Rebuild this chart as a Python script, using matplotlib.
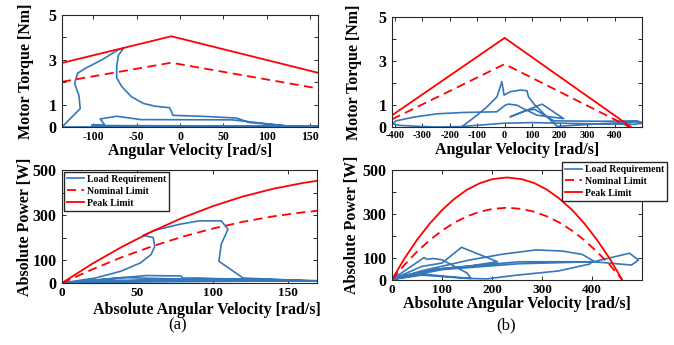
import numpy as np
import matplotlib
matplotlib.use("Agg")
import matplotlib.pyplot as plt

plt.rcParams['font.family'] = ['Liberation Serif', 'DejaVu Serif']
plt.rcParams['font.weight'] = 'bold'
plt.rcParams['axes.labelweight'] = 'bold'
plt.rcParams['axes.unicode_minus'] = False

BLUE = '#3477bb'
RED = '#ff0000'

# ---- (a) torque vs angular velocity ----
peak_a_w = [-136, -10, 159]
peak_a_t = [2.86, 4.05, 2.42]
nom_a_w = [-136, -10, 159]
nom_a_t = [2.02, 2.87, 1.72]
load_a_w = [-136, -115, -116.5, -121.5, -118, -110, -90, -71, -65, -71, -73, -73, -67,
            -56, -42, -29, -12, -8, 30, 65, 80, 125, 60, -45, -73, -92, -87, -102,
            -60, 40, 159, 100, -20, -136]
load_a_t = [0.0, 0.82, 1.41, 1.94, 2.4, 2.6, 3.0, 3.45, 3.52, 3.2, 2.7, 2.2, 1.8,
            1.35, 1.05, 0.93, 0.86, 0.52, 0.47, 0.40, 0.2, 0.04, 0.32, 0.33, 0.48, 0.36, 0.1, 0.07,
            0.06, 0.05, 0.03, 0.02, 0.01, 0.0]

# ---- (b) torque vs angular velocity ----
peak_b_w = [-410, 0, 460]
peak_b_t = [0.53, 4.05, 0.0]
nom_b_w = [-410, 0, 455]
nom_b_t = [0.35, 2.86, 0.0]
load_b_w = [-157, -100, -64, -28, -10, -2, 20, 57, 81, 87, 105, 142, 191, 350, 482, 500,
            470, 300, 100, -5, -157, -250, -314, -390, -409, -395, -330, -246, -150, -29,
            2, 14, 45, 69, 117, 215, 136, 20, 80, 110, 179, 350, 482, 500]
load_b_t = [0.0, 0.54, 0.92, 1.37, 2.06, 1.45, 1.6, 1.68, 1.65, 1.37, 1.07, 0.61, 0.03, 0.15, 0.23, 0.17,
            0.12, 0.15, 0.2, 0.17, 0.02, 0.0, 0.03, 0.08, 0.15, 0.28, 0.45, 0.6, 0.66, 0.69,
            0.99, 1.04, 0.99, 0.83, 0.54, 0.38, 1.04, 0.46, 0.76, 0.8, 0.28, 0.26, 0.28, 0.2]

# ---- (a) power vs absolute angular velocity ----
pw_a_w = [0, 20, 40, 60, 80, 100, 120, 140, 160, 170]
peak_a_p = [0, 85, 161, 229, 289, 340, 383, 417, 443, 453]
nom_a_p = [0, 60, 115, 163, 205, 241, 271, 295, 313, 320]
load_pa_w = [0, 22, 39, 52, 59, 61.5, 60.4, 53.7, 61.5, 78, 91, 105.5, 110, 105.5, 104, 120,
             170, 100, 40, 0, 56, 79, 80, 140, 170, 60, 0, 90, 150, 30, 0]
load_pa_p = [0, 22, 52, 89, 126, 163, 201, 211, 233, 260, 275, 275, 238, 171, 96, 22,
             8, 14, 24, 0, 33, 31, 22, 15, 10, 5, 0, 20, 12, 12, 0]

# ---- (b) power vs absolute angular velocity ----
pw_b_w = [0, 25, 50, 75, 100, 125, 150, 175, 200, 230, 260, 285, 310, 335, 360, 385, 410, 435, 460]
peak_b_p = [0, 96, 181, 254, 317, 369, 410, 439, 458, 466, 458, 440, 410, 369, 318, 255, 181, 97, 0]
nom_b_p = [0, 67, 127, 179, 223, 260, 288, 309, 322, 328, 322, 309, 288, 260, 223, 179, 127, 68, 0]
load_pb_w = [0, 60, 100, 139, 211, 150, 80, 30, 0, 64, 70, 82, 100, 125, 150, 158, 120, 60, 0,
             60, 155, 222, 288, 340, 380, 403, 395, 386, 333, 250, 190, 150, 60, 0,
             100, 254, 403, 475, 493, 479, 403, 254, 100, 0]
load_pb_p = [0, 60, 75, 147, 81, 60, 45, 20, 0, 100, 92, 96, 90, 60, 30, 5, 12, 25, 0,
             40, 89, 116, 135, 130, 115, 85, 70, 66, 39, 20, 3, 5, 20, 0,
             50, 81, 81, 120, 89, 66, 81, 72, 45, 0]

W, H = 674, 345
fig = plt.figure(figsize=(W / 100, H / 100), dpi=100)


def box(l, r, t, b):
    return [l / W, 1 - b / H, (r - l) / W, (b - t) / H]


def style(ax, xsize, ylab_x, ylab_y):
    for s in ax.spines.values():
        s.set_linewidth(0.8)
        s.set_color('#262626')
    ax.tick_params(direction='in', top=True, right=True, length=3, width=0.7,
                   colors='#262626', labelcolor='black')
    ax.tick_params(axis='x', labelsize=xsize, pad=3)
    ax.tick_params(axis='y', labelsize=11.5, pad=4)
    for lab in ax.get_xticklabels() + ax.get_yticklabels():
        lab.set_fontweight('bold')
    ax.yaxis.set_label_coords(ylab_x, ylab_y)


lw_red = 1.3
lw_blue = 1.2
dash = (5, 3)
lab_fs = 11.5
leg_kw = dict(fontsize=7, frameon=True, fancybox=False, framealpha=1, edgecolor='#262626',
              handlelength=1.8, borderpad=0.3, labelspacing=0.3, handletextpad=0.25)

# (a) top
ax1 = fig.add_axes(box(62, 318, 15, 127))
ax1.plot(load_a_w, load_a_t, color=BLUE, lw=lw_blue)
ax1.plot(nom_a_w, nom_a_t, color=RED, lw=lw_red, dashes=dash)
ax1.plot(peak_a_w, peak_a_t, color=RED, lw=lw_red)
ax1.set_xlim(-136, 159)
ax1.set_ylim(0, 5)
ax1.set_xticks([-100, -50, 0, 50, 100, 150])
ax1.set_yticks([0, 1, 2, 3, 4, 5], ['0', '1', '', '3', '', '5'])
style(ax1, 8.5, -0.11, 0.42)
ax1.set_xlabel('Angular Velocity [rad/s]', fontsize=lab_fs, labelpad=0)
ax1.set_ylabel('Motor Torque [Nm]', fontsize=lab_fs)

# (b) top
ax2 = fig.add_axes(box(392, 642, 17, 127))
ax2.plot(load_b_w, load_b_t, color=BLUE, lw=lw_blue)
ax2.plot(nom_b_w, nom_b_t, color=RED, lw=lw_red, dashes=dash)
ax2.plot(peak_b_w, peak_b_t, color=RED, lw=lw_red)
ax2.set_xlim(-410, 500)
ax2.set_ylim(0, 5)
ax2.set_xticks([-400, -300, -200, -100, 0, 100, 200, 300, 400])
ax2.set_yticks([0, 1, 2, 3, 4, 5], ['0', '1', '', '3', '', '5'])
style(ax2, 7.5, -0.12, 0.45)
ax2.set_xlabel('Angular Velocity [rad/s]', fontsize=lab_fs, labelpad=1)
ax2.set_ylabel('Motor Torque [Nm]', fontsize=lab_fs)

# (a) bottom
ax3 = fig.add_axes(box(62, 317, 170, 283))
ax3.plot(load_pa_w, load_pa_p, color=BLUE, lw=lw_blue, label='Load Requirement')
ax3.plot(pw_a_w, nom_a_p, color=RED, lw=lw_red, dashes=dash, label='Nominal Limit')
ax3.plot(pw_a_w, peak_a_p, color=RED, lw=lw_red, label='Peak Limit')
ax3.set_xlim(0, 169)
ax3.set_ylim(0, 500)
ax3.set_xticks([0, 50, 100, 150])
ax3.set_yticks([0, 100, 200, 300, 400, 500], ['0', '100', '', '300', '', '500'])
style(ax3, 9.5, -0.115, 0.40)
ax3.set_xlabel('Absolute Angular Velocity [rad/s]', fontsize=lab_fs, labelpad=0)
ax3.xaxis.set_label_coords(0.57, -0.165)
ax3.xaxis.label.set_va('top')
ax3.set_ylabel('Absolute Power [W]', fontsize=lab_fs)
ax3.legend(loc='upper left', borderaxespad=0.2, **leg_kw)

# (b) bottom
ax4 = fig.add_axes(box(392, 642, 170, 279.5))
ax4.plot(load_pb_w, load_pb_p, color=BLUE, lw=lw_blue, label='Load Requirement')
ax4.plot(pw_b_w, nom_b_p, color=RED, lw=lw_red, dashes=dash, label='Nominal Limit')
ax4.plot(pw_b_w, peak_b_p, color=RED, lw=lw_red, label='Peak Limit')
ax4.set_xlim(0, 500)
ax4.set_ylim(0, 500)
ax4.set_xticks([0, 100, 200, 300, 400])
ax4.set_yticks([0, 100, 200, 300, 400, 500], ['0', '100', '', '300', '', '500'])
style(ax4, 9.5, -0.13, 0.44)
ax4.set_xlabel('Absolute Angular Velocity [rad/s]', fontsize=lab_fs, labelpad=0)
ax4.set_ylabel('Absolute Power [W]', fontsize=lab_fs)
ax4.legend(loc='upper right', bbox_to_anchor=(1.1, 1.073), borderaxespad=0, **leg_kw)

fig.text(178 / W, 1 - 325 / H, '(a)', fontsize=12, fontweight='normal', ha='center', va='center')
fig.text(506 / W, 1 - 325 / H, '(b)', fontsize=12, fontweight='normal', ha='center', va='center')

fig.savefig('out.png', dpi=100)
